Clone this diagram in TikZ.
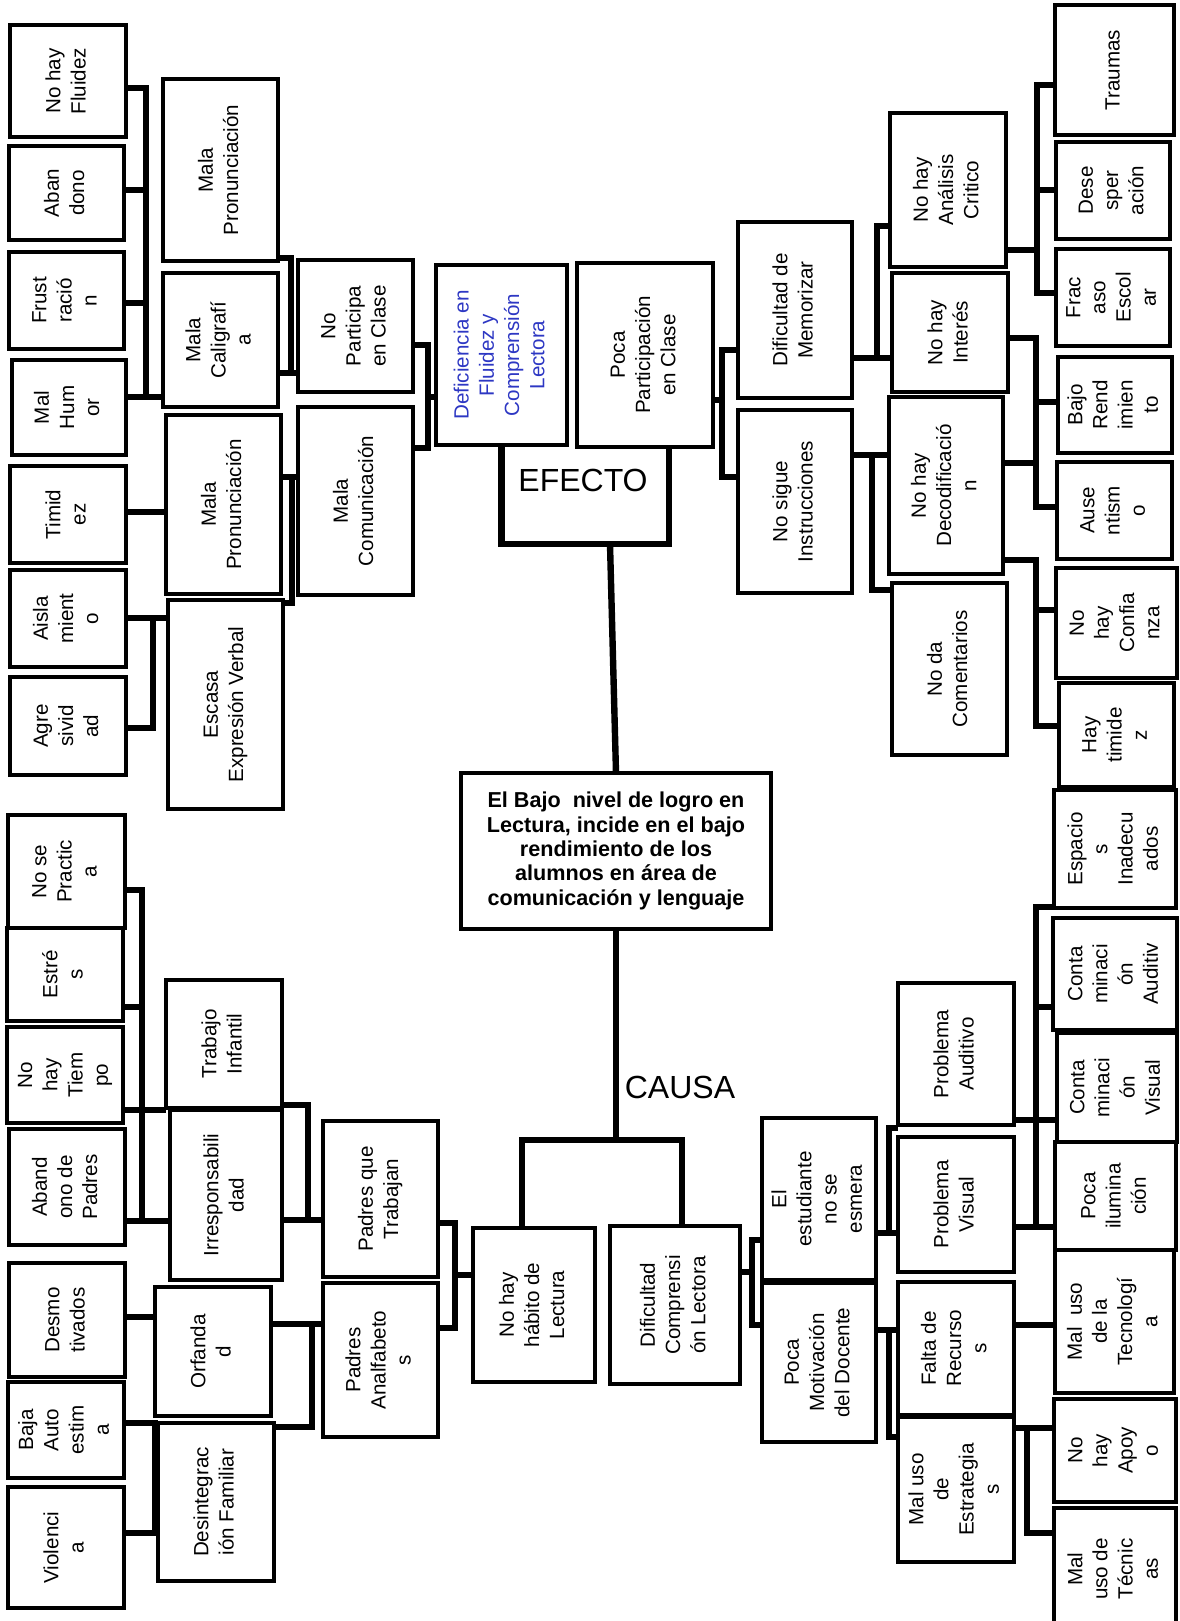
\documentclass[tikz,border=0pt]{standalone}
\usepackage{fontspec}
\setmainfont{Liberation Sans}
\usepackage{graphicx}
\usetikzlibrary{fit}
\definecolor{azul}{RGB}{45,55,195}
\newcommand{\giro}[1]{\rotatebox{90}{\begin{tabular}{@{}c@{}}#1\end{tabular}}}

\begin{document}
\begin{tikzpicture}[x=0.5pt, y=-0.5pt,
    caja/.style={draw, line width=2pt, inner sep=0pt, outer sep=0pt},
    texto/.style={font=\fontsize{10.3}{12.6}\selectfont, inner sep=0pt},
    dice/.style={label={[texto]center:{\giro{#1}}}},
    enlace/.style={line width=3.2pt},
    rotulo/.style={font=\fontsize{16}{18}\selectfont}]
\useasboundingbox (0,0) rectangle (1179,1621);

% efecto, izquierda
\node[caja, fit={(10,25) (126,137)}, dice={No hay\\Fluidez}] (fluidez) {};
\node[caja, fit={(9,146) (124,240)}, dice={Aban\\dono}] (abandono) {};
\node[caja, fit={(9,252) (124,349)}, dice={Frust\\ració\\n}] (frustracion) {};
\node[caja, fit={(12,360) (126,455)}, dice={Mal\\Hum\\or}] (humor) {};
\node[caja, fit={(10,466) (126,563)}, dice={Timid\\ez}] (timidez) {};
\node[caja, fit={(10,570) (126,667)}, dice={Aisla\\mient\\o}] (aislamiento) {};
\node[caja, fit={(10,677) (126,775)}, dice={Agre\\sivid\\ad}] (agresividad) {};
\node[caja, fit={(163,79) (278,261)}, dice={Mala\\Pronunciación}] (pronunA) {};
\node[caja, fit={(163,273) (278,407)}, dice={Mala\\Caligrafí\\a}] (caligrafia) {};
\node[caja, fit={(166,415) (281,594)}, dice={Mala\\Pronunciación}] (pronunB) {};
\node[caja, fit={(168,600) (283,809)}, dice={Escasa\\Expresión Verbal}] (expresion) {};
\node[caja, fit={(298,260) (413,392)}, dice={No\\Participa\\en Clase}] (participa) {};
\node[caja, fit={(298,407) (413,595)}, dice={Mala\\Comunicación}] (comunicacion) {};
\node[caja, fit={(436,265) (567,445)}, label={[texto, text=azul]center:{\giro{Deficiencia en\\Fluidez y\\Comprensión\\Lectora}}}] (deficiencia) {};
\node[caja, fit={(577,263) (713,447)}, dice={Poca\\Participación\\en Clase}] (poca) {};

% efecto, derecha
\node[caja, fit={(738,222) (852,398)}, dice={Dificultad de\\Memorizar}] (memorizar) {};
\node[caja, fit={(738,410) (852,593)}, dice={No sigue\\Instrucciones}] (instrucciones) {};
\node[caja, fit={(890,113) (1006,267)}, dice={No hay\\Análisis\\Critico}] (analisis) {};
\node[caja, fit={(892,273) (1008,392)}, dice={No hay\\Interés}] (interes) {};
\node[caja, fit={(889,397) (1003,574)}, dice={No hay\\Decodificació\\n}] (decodificacion) {};
\node[caja, fit={(892,583) (1007,755)}, dice={No da\\Comentarios}] (comentarios) {};
\node[caja, fit={(1055,5) (1174,135)}, dice={Traumas}] (traumas) {};
\node[caja, fit={(1056,142) (1170,239)}, dice={Dese\\sper\\ación}] (desesperacion) {};
\node[caja, fit={(1056,249) (1170,346)}, dice={Frac\\aso\\Escol\\ar}] (fracaso) {};
\node[caja, fit={(1058,357) (1172,453)}, dice={Bajo\\Rend\\imien\\to}] (rendimiento) {};
\node[caja, fit={(1057,462) (1172,559)}, dice={Ause\\ntism\\o}] (ausentismo) {};
\node[caja, fit={(1056,568) (1177,678)}, dice={No\\hay\\Confia\\nza}] (confianza) {};
\node[caja, fit={(1059,683) (1174,787)}, dice={Hay\\timide\\z}] (haytimidez) {};

% problema central
\node[caja, fit={(461,773) (771,929)}, label={[align=center, font=\fontsize{10.8}{12.2}\selectfont\bfseries]center:{El Bajo\ \ nivel de logro en\\Lectura, incide en el bajo\\rendimiento de los\\alumnos en área de\\comunicación y lenguaje}}] (principal) {};
\node[rotulo] (efecto) at (583,480) {EFECTO};
\node[rotulo] (causa) at (680,1087) {CAUSA};

% causa, derecha
\node[caja, fit={(1054,790) (1176,908)}, dice={Espacio\\s\\Inadecu\\ados}] (espacios) {};
\node[caja, fit={(1053,918) (1177,1030)}, dice={Conta\\minaci\\ón\\Auditiv}] (contAud) {};
\node[caja, fit={(1057,1033) (1177,1142)}, dice={Conta\\minaci\\ón\\Visual}] (contVis) {};
\node[caja, fit={(1055,1142) (1176,1250)}, dice={Poca\\ilumina\\ción}] (iluminacion) {};
\node[caja, fit={(1055,1250) (1174,1393)}, dice={Mal\ \ uso\\de la\\Tecnologí\\a}] (tecnologia) {};
\node[caja, fit={(1054,1399) (1176,1502)}, dice={No\\hay\\Apoy\\o}] (apoyo) {};
\node[caja, fit={(1054,1508) (1176,1630)}, dice={Mal\\uso de\\Técnic\\as}] (tecnicas) {};
\node[caja, fit={(898,983) (1014,1125)}, dice={Problema\\Auditivo}] (auditivo) {};
\node[caja, fit={(898,1137) (1014,1272)}, dice={Problema\\Visual}] (visual) {};
\node[caja, fit={(898,1282) (1014,1415)}, dice={Falta de\\Recurso\\s}] (recursos) {};
\node[caja, fit={(898,1417) (1014,1562)}, dice={Mal uso\\de\\Estrategia\\s}] (estrategias) {};
\node[caja, fit={(762,1118) (876,1280)}, dice={El\\estudiante\\no se\\esmera}] (esmera) {};
\node[caja, fit={(762,1283) (876,1442)}, dice={Poca\\Motivación\\del Docente}] (docente) {};
\node[caja, fit={(610,1226) (740,1384)}, dice={Dificultad\\Comprensi\\ón Lectora}] (dificultad) {};

% causa, izquierda
\node[caja, fit={(473,1228) (595,1382)}, dice={No hay\\hábito de\\Lectura}] (habito) {};
\node[caja, fit={(8,815) (125,928)}, dice={No se\\Practic\\a}] (practica) {};
\node[caja, fit={(7,928) (123,1021)}, dice={Estré\\s}] (estres) {};
\node[caja, fit={(7,1027) (123,1123)}, dice={No\\hay\\Tiem\\po}] (tiempo) {};
\node[caja, fit={(9,1129) (125,1245)}, dice={Aband\\ono de\\Padres}] (abandPadres) {};
\node[caja, fit={(9,1263) (125,1377)}, dice={Desmo\\tivados}] (desmotivados) {};
\node[caja, fit={(8,1382) (124,1478)}, dice={Baja\\Auto\\estim\\a}] (autoestima) {};
\node[caja, fit={(8,1487) (124,1608)}, dice={Violenci\\a}] (violencia) {};
\node[caja, fit={(166,980) (282,1108)}, dice={Trabajo\\Infantil}] (trabajo) {};
\node[caja, fit={(170,1110) (282,1280)}, dice={Irresponsabili\\dad}] (irresp) {};
\node[caja, fit={(155,1287) (271,1416)}, dice={Orfanda\\d}] (orfandad) {};
\node[caja, fit={(158,1423) (274,1581)}, dice={Desintegrac\\ión Familiar}] (desintegracion) {};
\node[caja, fit={(323,1121) (438,1277)}, dice={Padres que\\Trabajan}] (trabajan) {};
\node[caja, fit={(323,1283) (438,1437)}, dice={Padres\\Analfabeto\\s}] (analfabetos) {};

% barras
\coordinate (bus1) at (146,397);
\coordinate (bus2) at (291,373);
\coordinate (bus3) at (428,448);
\coordinate (bus5) at (292,603);
\coordinate (bus6) at (153,728);
\coordinate (bus7) at (722,477);
\coordinate (bus8) at (877,358);
\coordinate (bus9) at (1037,293);
\coordinate (bus10) at (1036,507);
\coordinate (bus11) at (872,590);
\coordinate (bus12) at (1036,726);
\coordinate (bus13) at (142,1221);
\coordinate (bus14) at (308,1220);
\coordinate (bus15) at (455,1328);
\coordinate (bus16) at (155,1533);
\coordinate (bus17) at (312,1427);
\coordinate (bus18) at (752,1325);
\coordinate (bus19) at (889,1233);
\coordinate (bus20) at (1036,1227);
\coordinate (bus21) at (889,1437);
\coordinate (bus22) at (1027,1533);
\coordinate (efR) at (669,544);
\coordinate (efC) at (610,544);
\coordinate (caL) at (522,1140);
\coordinate (caR) at (682,1140);

\draw[enlace] (fluidez.east |- 0,88) -| (bus1) -- (caligrafia.west |- bus1);
\draw[enlace] (humor.east |- bus1) -- (bus1);
\draw[enlace] (abandono.east |- 0,190) -- (bus1 |- 0,190);
\draw[enlace] (frustracion.east |- 0,303) -- (bus1 |- 0,303);
\draw[enlace] (pronunA.east |- 0,258) -| (bus2) -- (participa.west |- bus2);
\draw[enlace] (caligrafia.east |- bus2) -- (bus2);
\draw[enlace] (participa.east |- 0,345) -| (bus3) -- (comunicacion.east |- bus3);
\draw[enlace] (bus3 |- 0,397) -- (deficiencia.west |- 0,397);
\draw[enlace] (timidez.east |- 0,512) -- (pronunB.west |- 0,512);
\draw[enlace] (pronunB.east |- 0,477) -- (comunicacion.west |- 0,477);
\draw[enlace] (bus5 |- 0,477) -- (bus5) -- (expresion.east |- bus5);
\draw[enlace] (aislamiento.east |- 0,618) -- (expresion.west |- 0,618);
\draw[enlace] (bus6 |- 0,618) -- (bus6) -- (agresividad.east |- bus6);

\draw[enlace] (memorizar.west |- 0,350) -| (bus7) -- (instrucciones.west |- bus7);
\draw[enlace] (poca.east |- 0,400) -- (bus7 |- 0,400);
\draw[enlace] (analisis.west |- 0,226) -| (bus8);
\draw[enlace] (memorizar.east |- bus8) -- (interes.west |- bus8);
\draw[enlace] (traumas.west |- 0,85) -| (bus9) -- (fracaso.west |- bus9);
\draw[enlace] (desesperacion.west |- 0,190) -- (bus9 |- 0,190);
\draw[enlace] (analisis.east |- 0,250) -- (bus9 |- 0,250);
\draw[enlace] (interes.east |- 0,338) -| (bus10) -- (ausentismo.west |- bus10);
\draw[enlace] (rendimiento.west |- 0,402) -- (bus10 |- 0,402);
\draw[enlace] (decodificacion.east |- 0,463) -- (bus10 |- 0,463);
\draw[enlace] (instrucciones.east |- 0,455) -- (decodificacion.west |- 0,455);
\draw[enlace] (bus11 |- 0,455) -- (bus11) -- (comentarios.west |- bus11);
\draw[enlace] (decodificacion.east |- 0,560) -| (bus12) -- (haytimidez.west |- bus12);
\draw[enlace] (confianza.west |- 0,610) -- (bus12 |- 0,610);

\draw[enlace] (deficiencia.south) |- (efR) -- (poca.south -| efR);
\draw[enlace] (efC) -- (principal.north);
\draw[enlace] (principal.south) -- (principal.south |- caL);
\draw[enlace] (habito.north -| caL) |- (caR) -- (dificultad.north -| caR);

\draw[enlace] (practica.east |- 0,890) -| (bus13) -- (irresp.west |- bus13);
\draw[enlace] (abandPadres.east |- bus13) -- (bus13);
\draw[enlace] (estres.east |- 0,1007) -- (bus13 |- 0,1007);
\draw[enlace] (tiempo.east |- 0,1110) -- (trabajo.west |- 0,1110);
\draw[enlace] (trabajo.east |- 0,1105) -| (bus14) -- (trabajan.west |- bus14);
\draw[enlace] (irresp.east |- bus14) -- (bus14);
\draw[enlace] (trabajan.east |- 0,1223) -| (bus15) -- (analfabetos.east |- bus15);
\draw[enlace] (bus15 |- 0,1275) -- (habito.west |- 0,1275);
\draw[enlace] (desmotivados.east |- 0,1317) -- (orfandad.west |- 0,1317);
\draw[enlace] (autoestima.east |- 0,1423) -| (bus16) -- (desintegracion.west |- bus16);
\draw[enlace] (violencia.east |- bus16) -- (bus16);
\draw[enlace] (orfandad.east |- 0,1324) -- (analfabetos.west |- 0,1324);
\draw[enlace] (bus17 |- 0,1324) -- (bus17) -- (desintegracion.east |- bus17);

\draw[enlace] (dificultad.east |- 0,1272) -- (bus18 |- 0,1272);
\draw[enlace] (esmera.west |- 0,1240) -| (bus18) -- (docente.west |- bus18);
\draw[enlace] (esmera.east |- bus19) -- (visual.west |- bus19);
\draw[enlace] (auditivo.west |- 0,1128) -| (bus19);
\draw[enlace] (espacios.west |- 0,907) -| (bus20) -- (iluminacion.west |- bus20);
\draw[enlace] (visual.east |- bus20) -- (bus20);
\draw[enlace] (contAud.west |- 0,1007) -- (bus20 |- 0,1007);
\draw[enlace] (auditivo.east |- 0,1120) -- (contVis.west |- 0,1120);
\draw[enlace] (docente.east |- 0,1330) -- (recursos.west |- 0,1330);
\draw[enlace] (bus21 |- 0,1330) -- (bus21) -- (estrategias.west |- bus21);
\draw[enlace] (recursos.east |- 0,1325) -- (tecnologia.west |- 0,1325);
\draw[enlace] (estrategias.east |- 0,1428) -- (apoyo.west |- 0,1428);
\draw[enlace] (bus22 |- 0,1428) -- (bus22) -- (tecnicas.west |- bus22);
\end{tikzpicture}
\end{document}
